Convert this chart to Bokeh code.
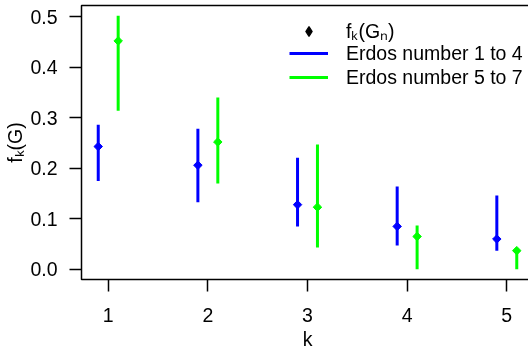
from bokeh.plotting import figure
from bokeh.models import Range1d, FixedTicker, PrintfTickFormatter, Legend, LegendItem, ColumnDataSource
from bokeh.embed import file_html
from bokeh.resources import INLINE

# ---- data ----
k = [1, 2, 3, 4, 5]
est_1to4 = [0.243, 0.206, 0.128, 0.085, 0.060]
lo_1to4 = [0.175, 0.133, 0.085, 0.047, 0.037]
hi_1to4 = [0.286, 0.278, 0.221, 0.164, 0.146]
est_5to7 = [0.452, 0.252, 0.123, 0.065, 0.037]
lo_5to7 = [0.314, 0.170, 0.043, 0.000, 0.000]
hi_5to7 = [0.502, 0.340, 0.247, 0.087, 0.042]
y_ticks = [0.0, 0.1, 0.2, 0.3, 0.4, 0.5]
legend_labels = ["fₖ(Gₙ)", "Erdos number 1 to 4", "Erdos number 5 to 7"]
x_label = "k"
y_label = "fₖ(G)"

BLUE = "#0000FF"
GREEN = "#00FF00"
FONT = "Liberation Sans"
FS = "19.5px"
dodge = 0.1
DIAMOND = dict(marker="square", angle=0.7853981634, size=6)

p = figure(frame_width=452, frame_height=274,
           x_range=Range1d(0.732, 5.268), y_range=Range1d(-0.0201, 0.5221),
           output_backend="svg", toolbar_location=None,
           min_border_left=81, min_border_right=2, min_border_top=5, min_border_bottom=70)
p.styles = {"position": "fixed", "top": "0px", "left": "0px"}
p.background_fill_color = "white"
p.border_fill_color = "white"
p.grid.visible = False
p.outline_line_color = "black"
p.outline_line_width = 1.5

src1 = ColumnDataSource(dict(x=[v - dodge for v in k], y=est_1to4, lo=lo_1to4, hi=hi_1to4))
src2 = ColumnDataSource(dict(x=[v + dodge for v in k], y=est_5to7, lo=lo_5to7, hi=hi_5to7))

# legend proxy for the point-estimate symbol (hidden; only shown in the legend)
proxy = p.scatter(x="x", y="y", source=src1, marker="diamond", size=9.5,
                  fill_color="black", line_color="black", line_width=1.2, visible=False)

seg1 = p.segment(x0="x", y0="lo", x1="x", y1="hi", source=src1, line_color=BLUE, line_width=3)
seg2 = p.segment(x0="x", y0="lo", x1="x", y1="hi", source=src2, line_color=GREEN, line_width=3)
p.scatter(x="x", y="y", source=src1, fill_color=BLUE, line_color=BLUE, **DIAMOND)
p.scatter(x="x", y="y", source=src2, fill_color=GREEN, line_color=GREEN, **DIAMOND)

for ax in (p.xaxis[0], p.yaxis[0]):
    ax.axis_line_color = None
    ax.major_tick_line_color = "black"
    ax.major_tick_line_width = 1.5
    ax.major_tick_out = 12
    ax.major_tick_in = 0
    ax.minor_tick_line_color = None
    ax.major_label_text_font = FONT
    ax.major_label_text_font_size = FS
    ax.major_label_text_color = "black"
    ax.axis_label_text_font = FONT
    ax.axis_label_text_font_size = FS
    ax.axis_label_text_font_style = "normal"
    ax.axis_label_text_color = "black"

p.xaxis.ticker = FixedTicker(ticks=k)
p.xaxis.major_label_standoff = 16
p.xaxis.axis_label = x_label
p.xaxis.axis_label_standoff = 3

p.yaxis.ticker = FixedTicker(ticks=y_ticks)
p.yaxis.formatter = PrintfTickFormatter(format="%.1f")
p.yaxis.major_label_standoff = 12
p.yaxis.major_label_orientation = "horizontal"
p.yaxis.axis_label = y_label
p.yaxis.axis_label_standoff = 1

common = dict(orientation="vertical", glyph_width=39, glyph_height=24, label_height=24,
              label_standoff=18, spacing=0, padding=0, margin=0,
              inactive_fill_alpha=0, click_policy="none",
              border_line_color=None, background_fill_alpha=0,
              label_text_font=FONT, label_text_font_size=FS, label_text_color="black")
legend_a = Legend(items=[LegendItem(label=legend_labels[0], renderers=[proxy])],
                  location=(208, 235), **common)
legend_b = Legend(items=[LegendItem(label=legend_labels[1], renderers=[seg1]),
                         LegendItem(label=legend_labels[2], renderers=[seg2])],
                  location=(208, 190), **common)
p.add_layout(legend_a, "center")
p.add_layout(legend_b, "center")

open("out.html", "w").write(file_html(p, INLINE))
